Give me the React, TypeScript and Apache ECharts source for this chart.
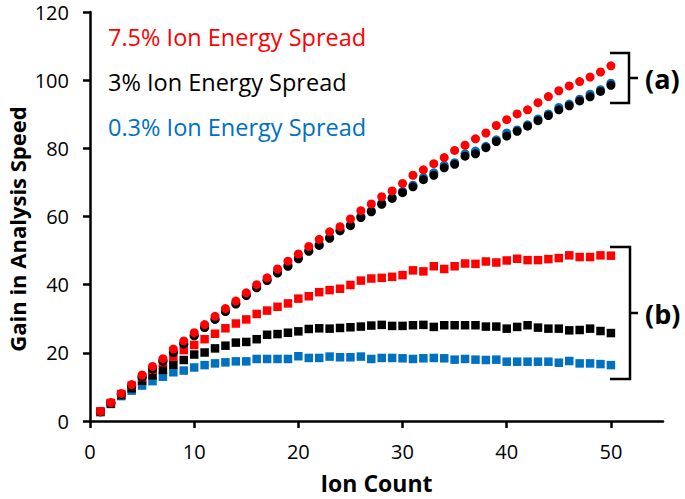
import React, { useEffect, useRef } from "react";
import * as echarts from "echarts";

const ionCount = Array.from({ length: 50 }, (_, i) => i + 1);

// (a) circles
const redCircles = [2.8, 5.4, 8.1, 10.7, 13.5, 16.0, 18.3, 21.1, 23.5, 25.9, 28.3, 30.7, 33.0, 35.2, 37.6, 40.0, 42.0, 44.6, 46.9, 49.0, 51.2, 53.3, 55.5, 57.0, 59.3, 61.7, 63.7, 65.8, 67.5, 69.7, 72.1, 73.7, 75.5, 77.3, 79.4, 80.9, 82.8, 84.5, 86.7, 88.4, 90.1, 91.3, 93.4, 95.2, 96.9, 98.3, 99.6, 100.9, 102.4, 104.2];
const blackCircles = [2.7, 5.2, 7.8, 10.2, 12.8, 15.2, 17.5, 20.1, 22.6, 25.0, 27.4, 29.8, 32.1, 34.3, 36.8, 39.1, 41.2, 43.4, 45.4, 47.6, 49.8, 51.5, 53.6, 55.8, 57.3, 59.7, 61.4, 63.6, 65.3, 67.0, 68.7, 70.8, 72.1, 74.3, 75.3, 77.7, 78.4, 80.2, 82.0, 83.6, 85.0, 86.5, 88.1, 89.6, 91.3, 92.5, 93.9, 95.1, 96.7, 98.5];
const blueCircles = [2.7, 5.2, 7.8, 10.3, 12.9, 15.3, 17.7, 20.2, 22.7, 25.1, 27.5, 29.9, 32.2, 34.5, 36.9, 39.2, 41.4, 43.6, 45.7, 47.8, 50.1, 51.8, 53.9, 56.0, 57.6, 60.0, 61.7, 63.9, 65.6, 67.4, 69.2, 71.4, 72.8, 75.0, 75.8, 78.4, 79.2, 80.6, 82.5, 84.5, 85.4, 86.9, 88.6, 90.1, 92.0, 93.0, 94.4, 95.9, 97.2, 99.1];

// (b) squares
const redSquares = [2.8, 5.3, 7.9, 10.4, 12.8, 15.0, 17.2, 18.9, 20.8, 22.3, 24.0, 25.6, 27.2, 28.6, 29.8, 31.4, 32.4, 33.5, 34.5, 35.9, 36.6, 37.8, 38.4, 38.8, 39.9, 41.2, 41.8, 42.0, 42.3, 42.8, 44.2, 43.9, 45.4, 44.6, 45.4, 46.2, 46.1, 46.8, 46.5, 47.1, 47.6, 47.2, 47.2, 47.5, 47.8, 48.6, 48.1, 48.1, 48.6, 48.5];
const blackSquares = [2.7, 5.1, 7.6, 9.6, 11.8, 13.4, 15.0, 16.5, 17.9, 19.5, 20.1, 21.3, 22.1, 23.0, 23.2, 24.0, 25.3, 25.5, 25.9, 26.3, 27.0, 27.2, 27.1, 27.3, 27.5, 27.7, 28.0, 28.2, 27.9, 27.9, 28.1, 28.2, 27.6, 28.1, 28.1, 28.1, 28.1, 27.7, 27.7, 27.1, 27.6, 28.1, 27.4, 27.1, 27.1, 26.6, 26.7, 27.1, 26.4, 25.8];
const blueSquares = [2.6, 5.0, 7.3, 8.9, 10.4, 11.7, 13.0, 14.3, 14.8, 15.7, 16.4, 16.9, 17.2, 17.5, 17.5, 18.2, 18.2, 18.2, 18.2, 19.0, 18.5, 18.5, 18.9, 18.7, 18.7, 18.9, 18.2, 18.5, 18.5, 18.4, 18.2, 18.4, 18.5, 18.4, 18.0, 18.2, 18.0, 17.9, 18.0, 17.4, 17.4, 17.4, 17.4, 17.4, 17.1, 17.6, 16.9, 16.9, 16.7, 16.4];

const xTicks = [0, 10, 20, 30, 40, 50];
const legendLabels = ["7.5% Ion Energy Spread", "3% Ion Energy Spread", "0.3% Ion Energy Spread"];
const RED = "#FF0000";
const BLACK = "#000000";
const BLUE = "#0070C0";

const FONT = '"Open Sans", "Noto Sans", sans-serif';

function pts(values: number[]) {
  return values.map((v, i) => [ionCount[i], v]);
}

export default function App() {
  const ref = useRef<HTMLDivElement>(null);
  useEffect(() => {
    document.body.style.margin = "0";
    if (!ref.current) return;
    const chart = echarts.init(ref.current, null, { renderer: "svg" });
    const mk = (name: string, data: number[], color: string, symbol: string, size: number) => ({
      name,
      type: "scatter",
      data: pts(data),
      symbol,
      symbolSize: size,
      itemStyle: { color, opacity: 1 },
      emphasis: { disabled: true },
    });
    const bracket = (x0: number, x1: number, y0: number, y1: number) => ({
      type: "polyline",
      shape: { points: [[x0, y0], [x1, y0], [x1, y1], [x0, y1]] },
      style: { stroke: "#000", lineWidth: 2.5, fill: null },
    });
    const tick = (x0: number, x1: number, y: number) => ({
      type: "line",
      shape: { x1: x0, y1: y, x2: x1, y2: y },
      style: { stroke: "#000", lineWidth: 2.5 },
    });
    chart.setOption({
      animation: false,
      grid: { left: 90, right: 22, top: 12, bottom: 75 },
      xAxis: {
        type: "value",
        min: 0,
        max: 55,
        name: "Ion Count",
        nameLocation: "middle",
        nameGap: 50,
        nameTextStyle: { fontSize: 23, fontWeight: "bold", fontFamily: FONT, color: "#000", lineHeight: 23 },
        axisLine: { show: true, onZero: false, lineStyle: { color: "#000", width: 2.5 } },
        axisTick: { show: true, length: 7, lineStyle: { color: "#000", width: 2.5 }, customValues: xTicks },
        axisLabel: { fontSize: 20, fontFamily: FONT, color: "#000", margin: 20, customValues: xTicks },
        splitLine: { show: false },
      },
      yAxis: {
        type: "value",
        min: 0,
        max: 120,
        interval: 20,
        axisLine: { show: true, lineStyle: { color: "#000", width: 2.5 } },
        axisTick: { show: true, length: 7, lineStyle: { color: "#000", width: 2.5 } },
        axisLabel: { fontSize: 20, lineHeight: 18, fontFamily: FONT, color: "#000", margin: 21 },
        splitLine: { show: false },
      },
      series: [
        mk("0.3% b", blueSquares, BLUE, "rect", 8.5),
        mk("3% b", blackSquares, BLACK, "rect", 8.5),
        mk("7.5% b", redSquares, RED, "rect", 8.5),
        mk("0.3% a", blueCircles, BLUE, "circle", 9),
        mk("3% a", blackCircles, BLACK, "circle", 9),
        mk("7.5% a", redCircles, RED, "circle", 9),
      ],
      graphic: [
        {
          type: "text",
          x: 17,
          y: 229,
          rotation: Math.PI / 2,
          style: { text: "Gain in Analysis Speed", fill: "#000", fontSize: 22, lineHeight: 22, fontWeight: "bold", fontFamily: FONT, align: "center", verticalAlign: "middle" },
        },
        ...legendLabels.map((t, i) => ({
          type: "text",
          x: 108,
          y: 37 + i * 45,
          style: { text: t, fill: [RED, BLACK, BLUE][i], fontSize: 23.5, fontFamily: FONT, align: "left", verticalAlign: "middle" },
        })),
        bracket(610, 629, 53, 103),
        tick(629, 638, 78),
        bracket(610, 630, 247, 379),
        tick(630, 638, 313),
        {
          type: "text",
          x: 645,
          y: 78,
          style: { text: "(a)", fill: "#000", fontSize: 27, fontWeight: "bold", fontFamily: FONT, align: "left", verticalAlign: "middle" },
        },
        {
          type: "text",
          x: 645,
          y: 313,
          style: { text: "(b)", fill: "#000", fontSize: 27, fontWeight: "bold", fontFamily: FONT, align: "left", verticalAlign: "middle" },
        },
      ],
    });
    return () => chart.dispose();
  }, []);
  return <div ref={ref} style={{ width: 685, height: 499 }} />;
}
